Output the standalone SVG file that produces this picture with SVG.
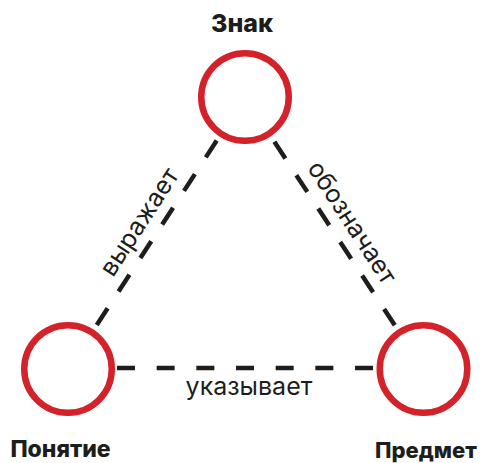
<svg xmlns="http://www.w3.org/2000/svg" width="485" height="463" viewBox="0 0 485 463">
<style>
.node circle{fill:none;stroke:#d3222a;stroke-width:6.5}
.title{font-family:Inter,"Liberation Sans",sans-serif;font-weight:800;fill:#1d1d1b;text-anchor:middle}
.lbl{font-family:Inter,"Liberation Sans",sans-serif;font-weight:400;font-size:25px;fill:#1d1d1b;text-anchor:middle}
.conn line{stroke:#1d1d1b;stroke-width:4.5;stroke-dasharray:20 20}
</style>
<rect width="485" height="463" fill="#fff"/>
<g id="connectors" class="conn">
<line x1="216.7" y1="140.6" x2="96.3" y2="325.7"/>
<line x1="274.4" y1="141.7" x2="394.8" y2="325.3"/>
<line x1="117" y1="368" x2="373" y2="368" style="stroke-dasharray:18 21.67"/>
<text class="lbl" transform="translate(146.5,226.5) rotate(-57)">выражает</text>
<text class="lbl" transform="translate(345,227) rotate(57)">обозначает</text>
<text class="lbl" x="249" y="395">указывает</text>
</g>
<g id="znak" class="node">
<circle cx="245" cy="97" r="43.75"/>
<text class="title" x="242" y="32" font-size="25">Знак</text>
</g>
<g id="ponyatie" class="node">
<circle cx="68" cy="369" r="43.75"/>
<text class="title" x="60.5" y="457" font-size="23">Понятие</text>
</g>
<g id="predmet" class="node">
<circle cx="423.5" cy="369" r="43.75"/>
<text class="title" x="426" y="458" font-size="22">Предмет</text>
</g>
</svg>
